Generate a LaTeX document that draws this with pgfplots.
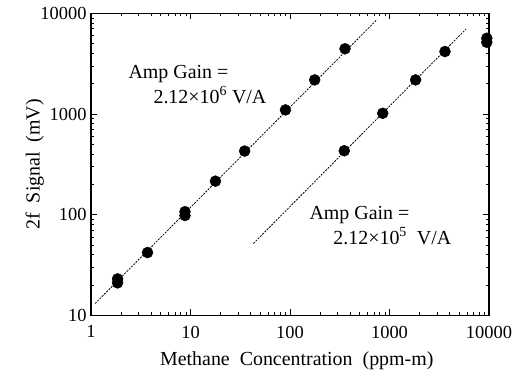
\documentclass[border=0pt]{standalone}
\usepackage{fontspec}
\setmainfont{Liberation Serif}
\usepackage{pgfplots}
\pgfplotsset{compat=1.18}
\begin{document}
\begin{tikzpicture}[font=\fontsize{20}{24}\selectfont]
\useasboundingbox (-91bp,-60bp) rectangle (435bp,315.3bp);
\begin{axis}[
  at={(0,0)}, anchor=south west,
  scale only axis, width=398bp, height=302bp,
  xmode=log, ymode=log,
  xmin=1, xmax=10000, ymin=10, ymax=10000,
  xtick={1,10,100,1000,10000}, xticklabels={1,10,100,1000,10000},
  ytick={10,100,1000,10000}, yticklabels={10,100,1000,10000},
  ticklabel style={font=\fontsize{18.5}{22}\selectfont},
  xticklabel style={yshift=-7bp},
  yticklabel style={xshift=-1bp},
  tick align=inside, xtick pos=both, ytick pos=both,
  major tick length=6bp, minor tick length=3bp,
  axis line style={line width=1.4bp},
  every tick/.style={black, line width=0.8bp},
  xlabel={Methane~~Concentration~~(ppm-m)},
  ylabel={2f~~Signal~~(mV)},
  xlabel style={at={(axis description cs:0.517,-0.149)}, anchor=center},
  ylabel style={at={(axis description cs:-0.141,0.5)}, anchor=center},
  clip=false,
]
\addplot[black, line width=0.8bp, dash pattern=on 2bp off 1.2bp] coordinates {(1.1,13.1) (743,8600)};
\addplot[black, line width=0.8bp, dash pattern=on 2bp off 1.2bp] coordinates {(42.8,51.6) (5870,6970)};
\addplot[only marks, mark=*, mark size=5.5bp, black] coordinates {
 (1.85,21) (1.85,23) (3.7,42) (8.8,98) (8.8,107) (17.8,215) (35,428) (90,1097) (177,2180) (357,4440)
};
\addplot[only marks, mark=*, mark size=5.5bp, black] coordinates {
 (351,431) (855,1016) (1830,2180) (3610,4170) (9500,5150) (9500,5650)
};
\node[anchor=base west] at (axis cs:2.2,2230) {Amp Gain =};
\node[anchor=base west] at (axis cs:3.92,1277) {2.12×10\textsuperscript{6} V/A};
\node[anchor=base west] at (axis cs:145,90) {Amp Gain =};
\node[anchor=base west] at (axis cs:252,50.8) {2.12×10\textsuperscript{5}~~V/A};
\end{axis}
\end{tikzpicture}
\end{document}
